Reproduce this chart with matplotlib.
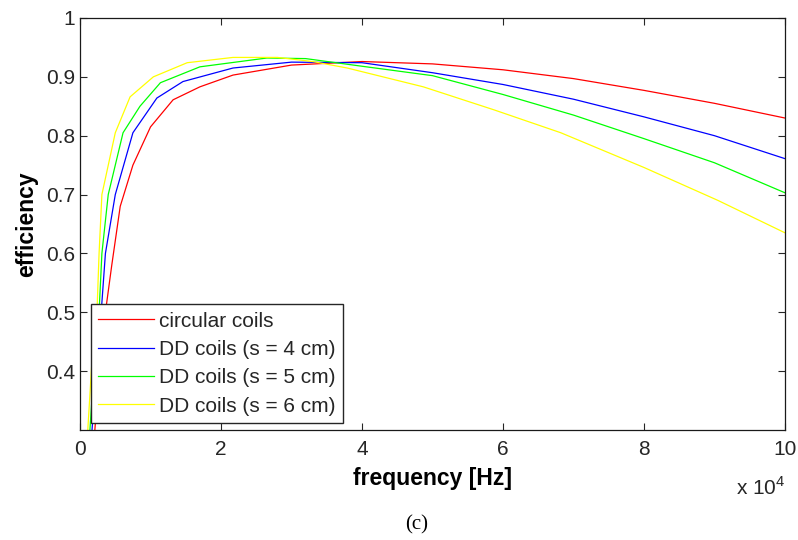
import matplotlib
matplotlib.use("Agg")
import matplotlib.pyplot as plt
from matplotlib.ticker import FuncFormatter

plt.rcParams['font.family'] = ['Liberation Sans', 'DejaVu Sans']
plt.rcParams['mathtext.fontset'] = 'custom'
plt.rcParams['mathtext.rm'] = 'Liberation Sans'

# frequency in Hz, efficiency
freq_red = [2100, 2800, 3600, 4500, 5700, 7500, 10000, 13200, 17000, 21700,
            30000, 40000, 50000, 60000, 70000, 80000, 90000, 100000]
eff_red = [0.30, 0.41, 0.50, 0.58, 0.68, 0.75, 0.815, 0.861, 0.883, 0.903,
           0.920, 0.926, 0.922, 0.912, 0.897, 0.877, 0.855, 0.830]

freq_blue = [1700, 2400, 3000, 3600, 5000, 7500, 10900, 14600, 21700,
             30000, 40000, 50000, 60000, 70000, 80000, 90000, 100000]
eff_blue = [0.30, 0.42, 0.50, 0.60, 0.70, 0.805, 0.864, 0.892, 0.915,
            0.925, 0.924, 0.907, 0.887, 0.862, 0.832, 0.800, 0.761]

freq_green = [1400, 2000, 2700, 3100, 4000, 6100, 8500, 11400, 17000, 26500,
              32000, 40000, 50000, 60000, 70000, 80000, 90000, 100000]
eff_green = [0.30, 0.41, 0.50, 0.60, 0.70, 0.805, 0.850, 0.890, 0.917, 0.932,
             0.931, 0.918, 0.902, 0.870, 0.835, 0.795, 0.754, 0.703]

freq_yellow = [1100, 1700, 2400, 2700, 3100, 5000, 7100, 10400, 15200, 21700,
               28000, 33000, 37900, 48700, 58700, 68200, 80000, 90500, 100000]
eff_yellow = [0.30, 0.42, 0.50, 0.60, 0.70, 0.805, 0.866, 0.900, 0.924, 0.933,
              0.933, 0.926, 0.915, 0.883, 0.844, 0.805, 0.746, 0.690, 0.635]

labels = ['circular coils', 'DD coils (s = 4 cm)',
          'DD coils (s = 5 cm)', 'DD coils (s = 6 cm)']
colors = ['#ff0000', '#0000ff', '#00ff00', '#ffff00']

xticks = [0, 20000, 40000, 60000, 80000, 100000]
yticks = [0.4, 0.5, 0.6, 0.7, 0.8, 0.9, 1.0]

fig = plt.figure(figsize=(7.98, 5.40), dpi=100)
ax = fig.add_axes([0.1003, 0.2037, 0.8834, 0.763])

series = [(freq_red, eff_red), (freq_blue, eff_blue),
          (freq_green, eff_green), (freq_yellow, eff_yellow)]
for (f, e), c, lab in zip(series, colors, labels):
    ax.plot(f, e, color=c, lw=0.9, label=lab)

ax.set_xlim(0, 100000)
ax.set_ylim(0.3, 1.0)
ax.set_xticks(xticks)
ax.set_yticks(yticks)
ax.xaxis.set_major_formatter(FuncFormatter(lambda v, p: '%g' % (v / 1e4)))
ax.yaxis.set_major_formatter(FuncFormatter(lambda v, p: '%g' % v))

ax.tick_params(direction='in', length=5, width=0.8, top=True, right=True,
               labelsize=15, labelcolor='#262626', color='#262626')
ax.tick_params(axis='x', pad=7)
ax.tick_params(axis='y', pad=3.5)
for s in ax.spines.values():
    s.set_linewidth(0.9)
    s.set_color('#1a1a1a')

ax.set_xlabel('frequency [Hz]', fontsize=16.5, fontweight='bold', labelpad=6)
ax.set_ylabel('efficiency', fontsize=16.5, fontweight='bold', labelpad=6)

ax.text(1.0, -0.14, 'x 10$^{4}$', transform=ax.transAxes, ha='right',
        va='center', fontsize=15, color='#262626')

leg = ax.legend(loc='lower left', bbox_to_anchor=(0.0156, 0.017),
                borderaxespad=0, fontsize=15, handlelength=2.65,
                handletextpad=0.25, labelspacing=0.45, borderpad=0.35,
                fancybox=False, framealpha=1)
leg.get_frame().set_edgecolor('#262626')
leg.get_frame().set_linewidth(1.0)
for t in leg.get_texts():
    t.set_color('#262626')

fig.text(0.522, 0.028, '(c)', family='Liberation Serif', fontsize=15,
         ha='center', va='center')

fig.savefig('out.png', dpi=100)
